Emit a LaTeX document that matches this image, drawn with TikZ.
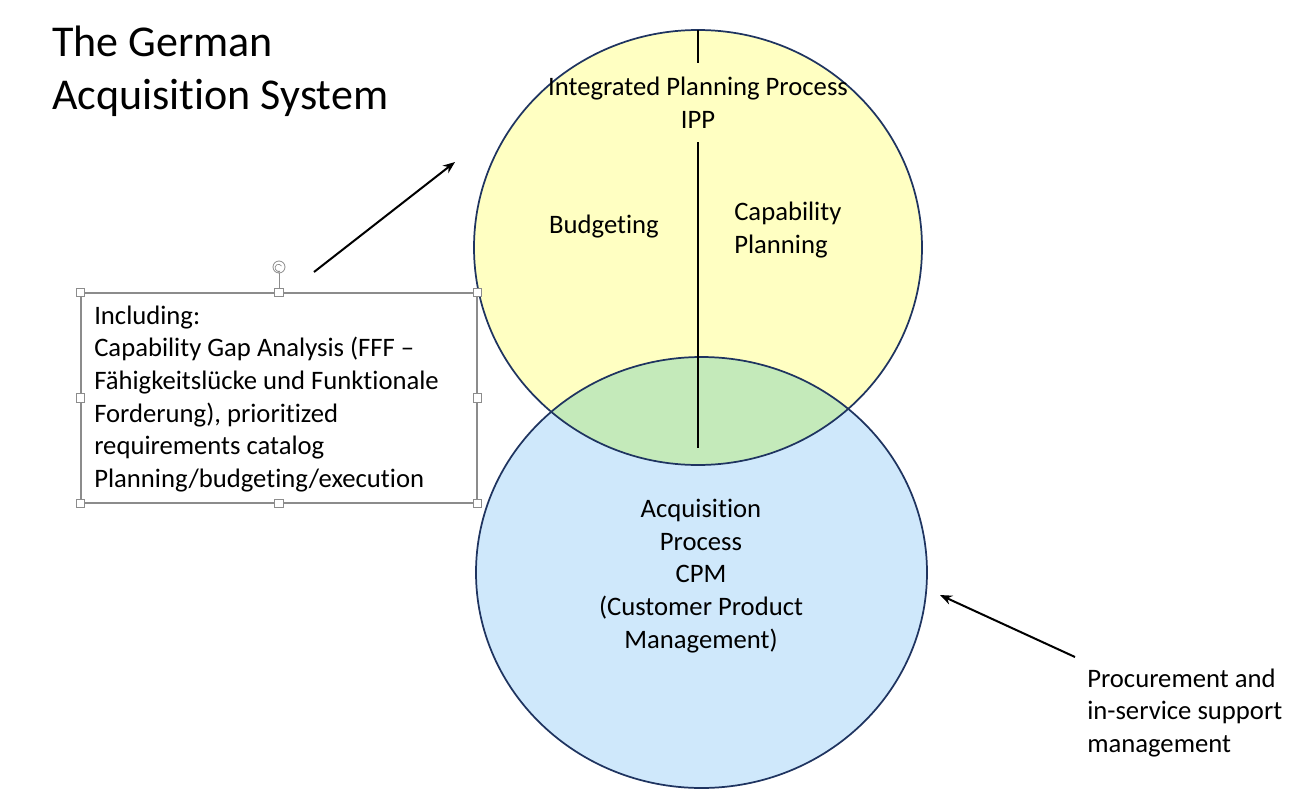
\documentclass[tikz,border=0pt]{standalone}
\usepackage{fontspec}
\setmainfont{Carlito}[Ligatures=NoCommon]
\usetikzlibrary{shapes.geometric,arrows.meta}
\definecolor{ippfill}{HTML}{FFFFC2}
\definecolor{cpmfill}{HTML}{CFE8FB}
\definecolor{bothfill}{HTML}{C4EABA}
\definecolor{rim}{HTML}{1F3460}
\definecolor{handlegray}{HTML}{8C8C8C}
\begin{document}
\begin{tikzpicture}[x=0.75pt,y=-0.75pt,
  lbl/.style={font=\fontsize{20}{24.5}\selectfont, inner sep=0pt},
  rimline/.style={draw=rim, line width=1.3pt},
  handle/.style={draw=handlegray, fill=white, line width=0.6pt, minimum size=6.5pt, inner sep=0pt, rectangle},
  pointer/.style={line width=1.5pt, -{Stealth[length=9pt,width=7pt]}},
  divider/.style={line width=1.5pt},
]
\useasboundingbox (0,0) rectangle (1300,789);
\fill[white] (0,0) rectangle (1300,789);
% fills
\fill[ippfill] (698,247.5) ellipse [x radius=224, y radius=217.5];
\fill[cpmfill] (701.5,572.5) ellipse [x radius=225.5, y radius=215.5];
\begin{scope}
  \clip (698,247.5) ellipse [x radius=224, y radius=217.5];
  \fill[bothfill] (701.5,572.5) ellipse [x radius=225.5, y radius=215.5];
\end{scope}
% outlines
\node[ellipse, rimline, minimum width=336pt, minimum height=326.25pt, inner sep=0pt, outer sep=0pt] (ippc) at (698,247.5) {};
\node[ellipse, rimline, minimum width=338.25pt, minimum height=323.25pt, inner sep=0pt, outer sep=0pt] (cpmc) at (701.5,572.5) {};
% divider
\coordinate (dv1) at (698,63);
\coordinate (dv2) at (698,142);
\coordinate (dv3) at (698,448);
\draw[divider] (ippc.north) -- (dv1);
\draw[divider] (dv2) -- (dv3);
% texts
\node[lbl, align=center] (ipptxt) at (698,103) {Integrated Planning Process\\IPP};
\node[lbl] (budget) at (604,227) {Budgeting};
\node[lbl, align=left, anchor=west] (capab) at (734,230) {Capability\\Planning};
\node[lbl, align=center] (acq) at (701,576) {Acquisition\\Process\\CPM\\(Customer Product\\Management)};
\node[font=\fontsize{33}{40}\selectfont, align=left, anchor=west, inner sep=0pt] (title) at (52,71) {The German\\Acquisition System};
% box
\node[draw=handlegray, line width=0.8pt, minimum width=297pt, minimum height=157.5pt, inner sep=0pt] (box) at (279,398) {};
\node[lbl, align=left, anchor=west] (boxtxt) at (94,399) {Including:\\Capability Gap Analysis (FFF --\\Fähigkeitslücke und Funktionale\\Forderung), prioritized\\requirements catalog\\Planning/budgeting/execution};
\node[circle, draw=handlegray, fill=white, line width=0.6pt, minimum size=9pt, inner sep=0pt] (rot) at (279,267) {};
\draw[handlegray, line width=0.6pt] (rot) -- (box.north);
\draw[handlegray, line width=0.5pt, -{Stealth[length=2pt,width=2pt]}] ([shift={(2.5,-1)}]rot.center) arc[start angle=30, end angle=300, radius=2.6pt];
\foreach \a in {north west,north,north east,east,south east,south,south west,west}
  \node[handle] at (box.\a) {};
% arrows
\coordinate (a1s) at (314,272);
\coordinate (a1e) at (455,162);
\draw[pointer] (a1s) -- (a1e);
\node[lbl, align=left, anchor=west] (proc) at (1087,713) {Procurement and\\in-service support\\management};
\coordinate (a2s) at (1075,657);
\coordinate (a2e) at (940,595);
\draw[pointer] (a2s) -- (a2e);
\end{tikzpicture}
\end{document}
